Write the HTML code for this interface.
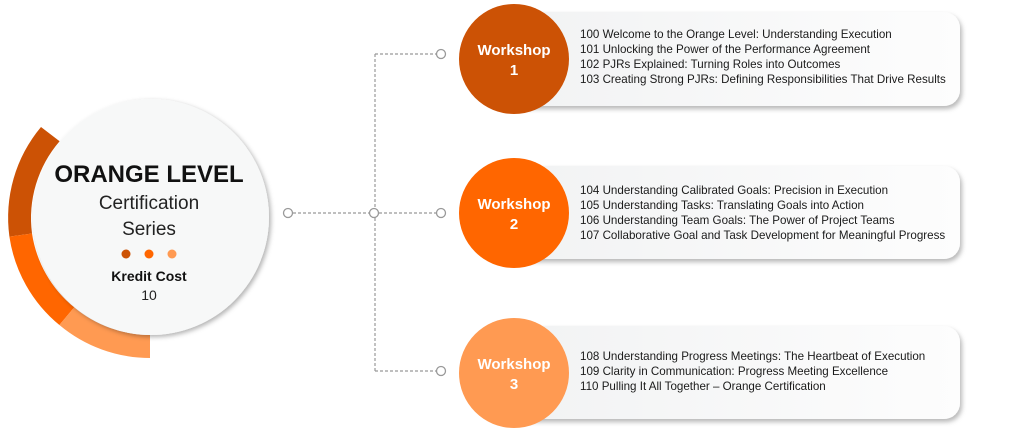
<!DOCTYPE html>
<html><head><meta charset="utf-8"><style>
html,body{margin:0;padding:0;background:#fff;}
svg{display:block;}
text{font-family:"Liberation Sans",sans-serif;}
</style></head><body>
<svg width="1023" height="433" viewBox="0 0 1023 433" xmlns="http://www.w3.org/2000/svg">
<defs>
<filter id="sh" x="-10%" y="-20%" width="130%" height="150%"><feDropShadow dx="2" dy="3" stdDeviation="2.5" flood-color="#000" flood-opacity="0.28"/></filter>
<filter id="sh2" x="-20%" y="-20%" width="140%" height="140%"><feDropShadow dx="2" dy="2" stdDeviation="2.5" flood-color="#000" flood-opacity="0.3"/></filter>
<linearGradient id="cg" x1="0" y1="0" x2="1" y2="0"><stop offset="0" stop-color="#f1f2f3"/><stop offset="1" stop-color="#fdfdfd"/></linearGradient>
</defs>
<rect x="500" y="12" width="460" height="94" rx="16" fill="url(#cg)" filter="url(#sh)"/>
<rect x="500" y="166" width="460" height="93" rx="16" fill="url(#cg)" filter="url(#sh)"/>
<rect x="500" y="326" width="460" height="93" rx="16" fill="url(#cg)" filter="url(#sh)"/>
<path d="M41,127 A141,141 0 0 0 9.4,236.6 L32,233.5 A118,118 0 0 1 59.6,141.2 Z" fill="#CC5205"/>
<path d="M9.4,236.6 A141,141 0 0 0 59.4,325 L74.2,307.4 A118,118 0 0 1 32,233.5 Z" fill="#FF6600"/>
<path d="M59.4,325 A141,141 0 0 0 150,358 L150,335 A118,118 0 0 1 74.2,307.4 Z" fill="#FF9A52"/>
<circle cx="151" cy="217" r="118" fill="#F7F8F8" filter="url(#sh2)"/>
<text x="149" y="182" text-anchor="middle" font-size="24" font-weight="bold" fill="#111">ORANGE LEVEL</text>
<text x="149" y="209" text-anchor="middle" font-size="19" fill="#222">Certification</text>
<text x="149" y="235" text-anchor="middle" font-size="19" fill="#222">Series</text>
<circle cx="126" cy="254" r="4.5" fill="#CC5205"/>
<circle cx="149" cy="254" r="4.5" fill="#FF6600"/>
<circle cx="172" cy="254" r="4.5" fill="#FF9A52"/>
<text x="149" y="281" text-anchor="middle" font-size="14" font-weight="bold" fill="#111">Kredit Cost</text>
<text x="149" y="300" text-anchor="middle" font-size="14" fill="#222">10</text>
<g stroke="#999" stroke-width="1.2" stroke-dasharray="3,2" fill="none">
<line x1="293" y1="213" x2="369" y2="213"/>
<line x1="379" y1="213" x2="436" y2="213"/>
<line x1="375" y1="54" x2="375" y2="208"/>
<line x1="375" y1="218" x2="375" y2="371"/>
<line x1="375" y1="54" x2="436" y2="54"/>
<line x1="375" y1="371" x2="436" y2="371"/>
</g>
<g stroke="#999" stroke-width="1.3" fill="#fff">
<circle cx="288" cy="213" r="4.5"/>
<circle cx="374" cy="213" r="4.5"/>
<circle cx="441" cy="213" r="4.5"/>
<circle cx="441" cy="54" r="4.5"/>
<circle cx="441" cy="371" r="4.5"/>
</g>
<circle cx="514" cy="59" r="55" fill="#CC5205"/>
<circle cx="514" cy="213" r="55" fill="#FF6600"/>
<circle cx="514" cy="373" r="55" fill="#FF9A52"/>
<g fill="#fff" font-size="15" font-weight="bold" text-anchor="middle">
<text x="514" y="55">Workshop</text><text x="514" y="75">1</text>
<text x="514" y="209">Workshop</text><text x="514" y="229">2</text>
<text x="514" y="369">Workshop</text><text x="514" y="389">3</text>
</g>
<g font-size="11.6" fill="#1a1a1a">
<text x="580" y="38">100 Welcome to the Orange Level: Understanding Execution</text>
<text x="580" y="53">101 Unlocking the Power of the Performance Agreement</text>
<text x="580" y="68">102 PJRs Explained: Turning Roles into Outcomes</text>
<text x="580" y="83">103 Creating Strong PJRs: Defining Responsibilities That Drive Results</text>
<text x="580" y="194">104 Understanding Calibrated Goals: Precision in Execution</text>
<text x="580" y="209">105 Understanding Tasks: Translating Goals into Action</text>
<text x="580" y="224">106 Understanding Team Goals: The Power of Project Teams</text>
<text x="580" y="239">107 Collaborative Goal and Task Development for Meaningful Progress</text>
<text x="580" y="360">108 Understanding Progress Meetings: The Heartbeat of Execution</text>
<text x="580" y="375">109 Clarity in Communication: Progress Meeting Excellence</text>
<text x="580" y="390">110 Pulling It All Together – Orange Certification</text>
</g>
</svg>
</body></html>
